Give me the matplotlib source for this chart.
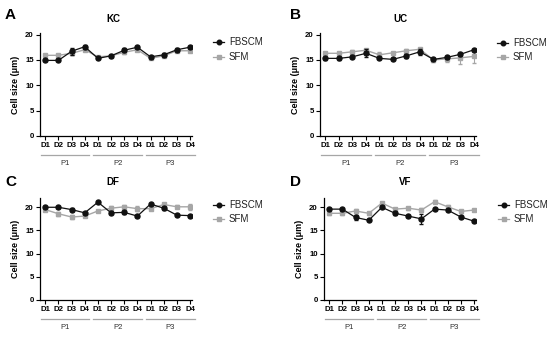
import matplotlib
matplotlib.use("Agg")
import matplotlib.pyplot as plt
import matplotlib.transforms as mtransforms
import numpy as np

days = ["D1", "D2", "D3", "D4"]
passages = ["P1", "P2", "P3"]
series_names = ["FBSCM", "SFM"]

kc_fbscm = [14.9, 14.9, 16.7, 17.6, 15.3, 15.8, 16.9, 17.5, 15.6, 16.0, 17.0, 17.5]
kc_sfm = [15.9, 15.9, 16.3, 17.0, 15.6, 15.8, 16.5, 17.0, 15.3, 15.8, 16.8, 16.8]
kc_fbscm_err = [0.2, 0.2, 0.7, 0.4, 0.2, 0.2, 0.4, 0.2, 0.2, 0.3, 0.3, 0.2]
kc_sfm_err = [0.2, 0.2, 0.3, 0.3, 0.2, 0.2, 0.3, 0.2, 0.2, 0.2, 0.2, 0.3]

uc_fbscm = [15.3, 15.3, 15.6, 16.3, 15.3, 15.1, 15.8, 16.6, 15.1, 15.5, 16.1, 17.0]
uc_sfm = [16.3, 16.3, 16.6, 16.9, 16.0, 16.4, 16.8, 17.1, 15.0, 15.2, 15.4, 15.7]
uc_fbscm_err = [0.3, 0.3, 0.3, 0.8, 0.2, 0.2, 0.4, 0.6, 0.2, 0.3, 0.3, 0.2]
uc_sfm_err = [0.3, 0.3, 0.3, 0.3, 0.5, 0.2, 0.3, 0.3, 0.4, 0.6, 1.2, 1.3]

df_fbscm = [20.0, 20.0, 19.5, 18.8, 21.1, 18.8, 18.9, 18.1, 20.7, 19.8, 18.3, 18.2]
df_sfm = [19.5, 18.6, 17.9, 18.1, 19.2, 19.8, 20.1, 19.7, 19.7, 20.6, 20.1, 20.1]
df_fbscm_err = [0.2, 0.2, 0.3, 0.2, 0.2, 0.3, 0.3, 0.2, 0.2, 0.3, 0.2, 0.2]
df_sfm_err = [0.3, 0.4, 0.4, 0.3, 0.3, 0.4, 0.4, 0.5, 0.3, 0.4, 0.3, 0.6]

vf_fbscm = [19.6, 19.6, 17.8, 17.2, 20.0, 18.7, 18.1, 17.5, 19.6, 19.4, 17.9, 17.0]
vf_sfm = [18.7, 18.7, 19.2, 18.7, 20.9, 19.6, 19.8, 19.4, 21.2, 20.1, 19.1, 19.4]
vf_fbscm_err = [0.2, 0.2, 0.5, 0.2, 0.2, 0.4, 0.3, 1.0, 0.2, 0.2, 0.3, 0.2]
vf_sfm_err = [0.4, 0.3, 0.4, 0.3, 0.3, 0.3, 0.3, 0.4, 0.3, 0.3, 0.3, 0.3]

panels = [
    ("A", "KC", kc_fbscm, kc_fbscm_err, kc_sfm, kc_sfm_err, 20.3),
    ("B", "UC", uc_fbscm, uc_fbscm_err, uc_sfm, uc_sfm_err, 20.3),
    ("C", "DF", df_fbscm, df_fbscm_err, df_sfm, df_sfm_err, 22.0),
    ("D", "VF", vf_fbscm, vf_fbscm_err, vf_sfm, vf_sfm_err, 22.0),
]

W, H = 550, 337
fig = plt.figure(figsize=(5.5, 3.37), dpi=100)
plt.rcParams['font.family'] = ['Liberation Sans', 'DejaVu Sans']

# axes rects in pixels: left, top, right, bottom
rects = [(40, 33, 192, 136), (320, 33, 476, 136), (40, 198, 192, 300), (324, 198, 476, 300)]
letter_pos = [(5, 15), (290, 15), (5, 182), (290, 182)]
title_x = [113, 400, 113, 405]
title_y = [19, 19, 182, 182]
legend_x = [213, 497, 213, 498]
legend_y = [(42, 57), (43, 57), (205, 219), (205, 219)]

gray = "#a6a6a6"
xlabels = days * len(passages)
x = np.arange(len(xlabels))

for i, (letter, title, f, fe, s, se, ytop) in enumerate(panels):
    l, t, r, b = rects[i]
    ax = fig.add_axes([l / W, 1 - b / H, (r - l) / W, (b - t) / H])
    ax.errorbar(x, s, yerr=se, color=gray, marker='s', markersize=3.5, lw=1.0,
                elinewidth=0.8, capsize=1.2, zorder=2)
    ax.errorbar(x, f, yerr=fe, color='#111111', marker='o', markersize=3.6, lw=0.9,
                elinewidth=0.8, capsize=1.2, zorder=3)
    ax.set_xlim(-0.4, 11.15)
    ax.set_ylim(0, ytop)
    ax.set_yticks([0, 5, 10, 15, 20])
    ax.set_xticks(x)
    ax.set_xticklabels(xlabels, fontsize=5.6, fontweight='bold')
    ax.tick_params(axis='both', direction='out', length=3, width=0.8, pad=1.5, labelsize=5.6)
    for lab in ax.get_yticklabels():
        lab.set_fontweight('bold')
    for sp in ['top', 'right']:
        ax.spines[sp].set_visible(False)
    for sp in ['left', 'bottom']:
        ax.spines[sp].set_linewidth(0.9)
    ax.set_ylabel("Cell size (μm)", fontsize=6.5, fontweight='bold', labelpad=4)
    trans = mtransforms.blended_transform_factory(ax.transData, ax.transAxes)
    for k, p in enumerate(passages):
        x0 = 4 * k - 0.35
        x1 = 4 * k + 3 + 0.35
        ax.plot([x0, x1], [-0.185, -0.185], transform=trans, color=gray, lw=0.9, clip_on=False)
        ax.text(4 * k + 1.5, -0.27, p, transform=trans, ha='center', va='center',
                fontsize=5.5, color='#333333')
    fig.text(letter_pos[i][0] / W, 1 - letter_pos[i][1] / H, letter, fontsize=11,
             fontweight='bold', ha='left', va='center')
    fig.text(title_x[i] / W, 1 - title_y[i] / H, title, fontsize=7, fontweight='bold',
             ha='center', va='center')
    lx = legend_x[i]
    for j, (name, col, mk) in enumerate([(series_names[0], '#111111', 'o'), (series_names[1], gray, 's')]):
        yy = 1 - legend_y[i][j] / H
        fig.lines.append(plt.Line2D([lx / W, (lx + 11) / W], [yy, yy], color=col, lw=0.9,
                                    transform=fig.transFigure))
        fig.lines.append(plt.Line2D([(lx + 5.5) / W], [yy], color=col, marker=mk, markersize=3.3,
                                    transform=fig.transFigure))
        fig.text((lx + 16) / W, yy, name, fontsize=7, ha='left', va='center', color='#222222')

fig.savefig("out.png", dpi=100)
